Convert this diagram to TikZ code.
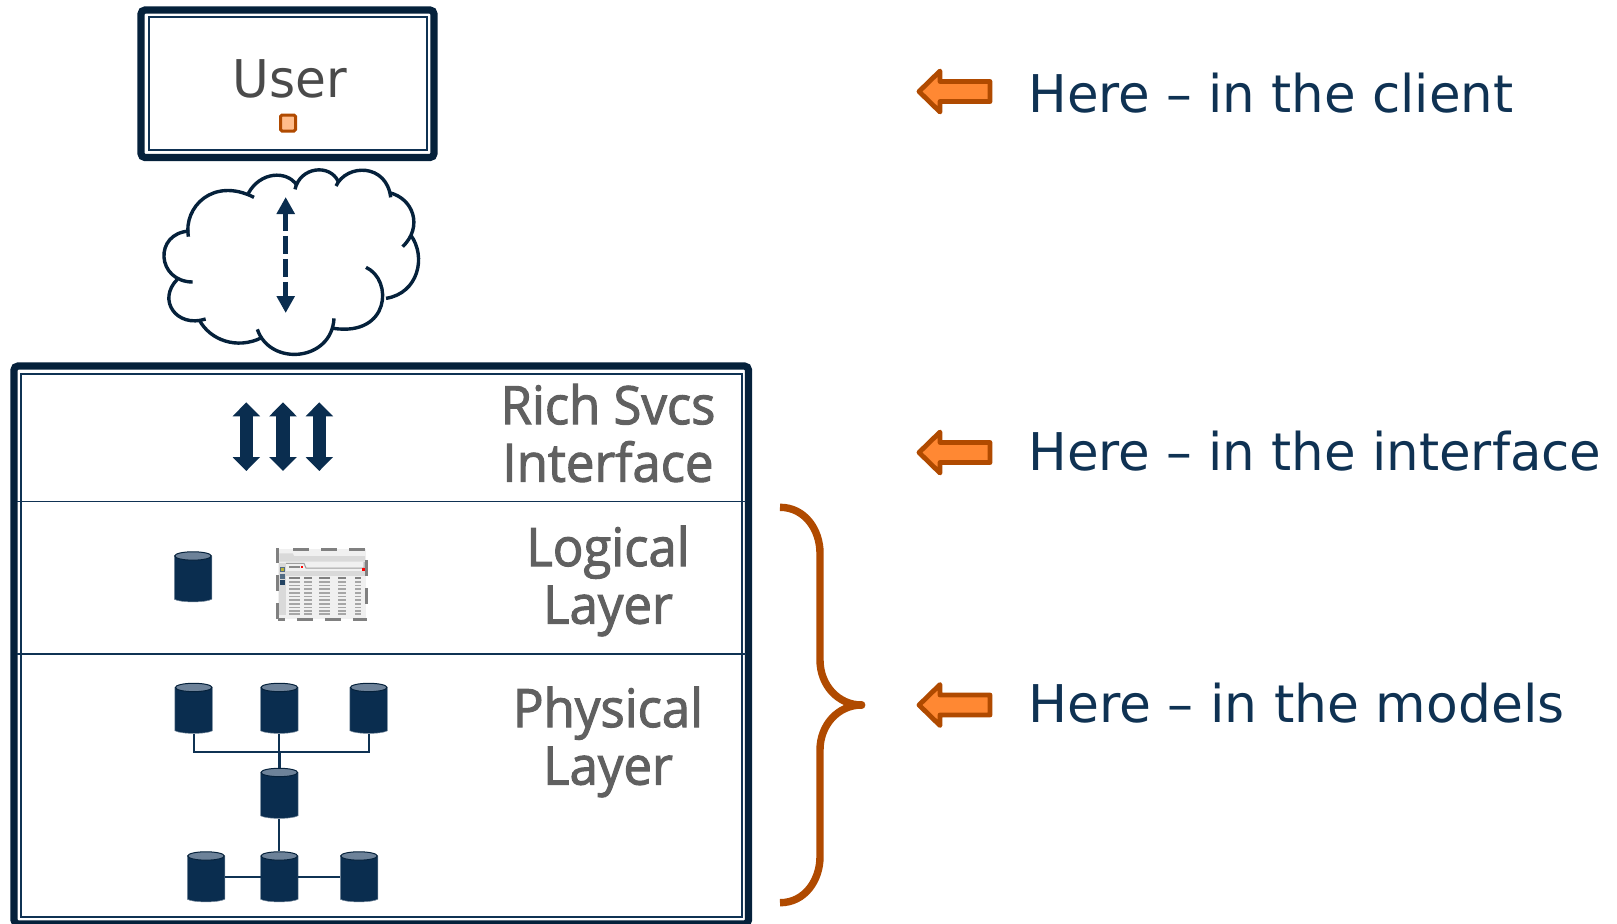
\documentclass[tikz,border=0pt]{standalone}
\usepackage{fontspec}
\setmainfont{DejaVu Sans}
\newfontfamily\layfont[FakeBold=2,FakeStretch=0.96]{Open Sans}
\newfontfamily\herefont[FakeStretch=0.988]{DejaVu Sans}
\newfontfamily\herefontb[FakeStretch=0.998]{DejaVu Sans}
\usetikzlibrary{calc,arrows.meta}
\definecolor{navy}{HTML}{05213B}
\definecolor{navyfill}{HTML}{0A2D4F}
\definecolor{cyltop}{HTML}{6D8299}
\definecolor{rust}{HTML}{B04A00}
\definecolor{orangef}{HTML}{FF8833}
\definecolor{peach}{HTML}{FFBC8A}
\definecolor{usergray}{HTML}{4A4A4A}
\definecolor{laygray}{HTML}{606060}
\definecolor{heretext}{HTML}{0F3253}
\tikzset{
  outerbox/.style={draw=navy,line width=3.6pt,rounded corners=2pt,fill=none,inner sep=0pt},
  innerbox/.style={draw=heretext,line width=1pt},
  layerline/.style={draw=heretext,line width=0.8pt},
  dbcyl/.style={rectangle,minimum width=18.75pt,minimum height=25.75pt,inner sep=0pt,outer sep=0pt},
  cylbody/.style={fill=navyfill,draw=navyfill!55,line width=0.25pt},
  cylend/.style={fill=cyltop,draw=navy,line width=0.5pt},
  conn/.style={draw=heretext,line width=1pt},
  cloudline/.style={draw=navy,line width=1.7pt,line cap=butt},
  fatarrow/.style={navyfill,line width=6.65pt,{Triangle[length=7pt,width=13.35pt]}-{Triangle[length=7pt,width=13.35pt]}},
  dasharrow/.style={navyfill,line width=2.7pt,dash pattern=on 9pt off 2.5pt,{Triangle[length=8.5pt,width=8.7pt]}-{Triangle[length=8.5pt,width=8.7pt]}},
  herearrow/.style={draw=rust,fill=orangef,line width=2.4pt,line join=round},
  heretxt/.style={anchor=base west,text=heretext,font=\fontsize{26}{30}\selectfont\herefont,inner sep=0pt},
  laytxt/.style={align=center,text=laygray,font=\fontsize{26.5}{28.75}\selectfont\layfont,inner sep=0pt},
}
% cylinder: a named node plus its drawn body
\newcommand\dbnode[3]{%
  \node[dbcyl] (#1) at (#2,#3) {};
  \filldraw[cylbody] ($(#1.north west)+(0,5)$) -- ($(#1.south west)+(0,-3.5)$)
     .. controls ($(#1.south west)+(6,0)$) and ($(#1.south east)+(-6,0)$) .. ($(#1.south east)+(0,-3.5)$)
     -- ($(#1.north east)+(0,5)$) -- cycle;
  \filldraw[cylend] ($(#1.north)+(0,4.7)$) ellipse (18.3 and 4.2);
}
\begin{document}
\begin{tikzpicture}[x=0.5pt,y=-0.5pt]
\useasboundingbox (0,0) rectangle (1617,923);
% user box
\node[outerbox,minimum width=146.5pt,minimum height=73.75pt] (userbox) at (287.5,83.75) {};
\draw[innerbox] (148.5,17) rectangle (427,150);
\node[text=usergray,font=\fontsize{26}{30}\selectfont,anchor=base,inner sep=0pt] (usertxt) at (290,97) {\addfontfeatures{FakeStretch=0.965}User};
\node[draw=rust,fill=peach,line width=1.5pt,rounded corners=0.8pt,minimum width=7.5pt,minimum height=8pt,inner sep=0pt] (usersq) at (288,123) {};
% cloud (zoom coordinates)
\begin{scope}[shift={(120,0)},x=0.16667pt,y=-0.16667pt]
\draw[cloudline] (205,710) .. controls (190,620) and (280,530) .. (402,592);
\draw[cloudline] (385,580) .. controls (420,515) and (500,510) .. (530,555);
\draw[cloudline] (525,568) .. controls (540,500) and (630,490) .. (655,545);
\draw[cloudline] (648,558) .. controls (680,490) and (800,490) .. (812,592);
\draw[cloudline] (808,578) .. controls (880,595) and (910,680) .. (848,740);
\draw[cloudline] (872,705) .. controls (920,770) and (895,880) .. (798,895);
\draw[cloudline] (738,802) .. controls (820,840) and (810,1010) .. (640,985);
\draw[cloudline] (642,955) .. controls (635,1085) and (450,1100) .. (412,988);
\draw[cloudline] (425,1013) .. controls (350,1050) and (270,1020) .. (238,960);
\draw[cloudline] (257,957) .. controls (170,985) and (110,900) .. (172,838);
\draw[cloudline] (218,846) .. controls (110,845) and (100,700) .. (208,693);
\end{scope}
\coordinate (datop) at (285.7,197);
\coordinate (dabot) at (285.7,313);
\draw[dasharrow] (datop) -- (dabot);
% service box
\node[outerbox,minimum width=367.25pt,minimum height=279pt] (svcbox) at (381.25,645) {};
\draw[innerbox] (21,374) rectangle (742,917);
\coordinate (l1a) at (17,501.5); \coordinate (l1b) at (746,501.5);
\coordinate (l2a) at (17,654); \coordinate (l2b) at (746,654);
\draw[layerline] (l1a) -- (l1b);
\draw[layerline] (l2a) -- (l2b);
% fat arrows
\foreach \n/\x in {a/246.3,b/283,c/319.3}{
  \coordinate (ft\n) at (\x,402.3); \coordinate (fb\n) at (\x,471);
  \draw[fatarrow] (ft\n) -- (fb\n);
}
% layer labels
\node[laytxt] (rich) at (608,433) {Rich Svcs\\Interface};
\node[laytxt] (logical) at (608,581) {Logical\\Layer};
\node[laytxt] (physical) at (608,742) {Physical\\Layer};
% logical layer db
\dbnode{ldb}{193}{577}
% server icon (zoom coordinates)
\begin{scope}[shift={(150,520)},x=0.16667pt,y=-0.16667pt]
\fill[black!6] (385,88) rectangle (648,298);
\fill[black!15] (388,100) -- (428,100) -- (432,108) -- (645,108) -- (645,125) -- (388,125) -- cycle;
\fill[black!15] (388,128) rectangle (408,285);
\fill[black!15] (408,152) rectangle (645,168);
\draw[black!38,line width=0.5pt] (408,130) -- (462,130) -- (468,144) -- (642,144) -- (642,126);
\fill[black!46] (417,138) rectangle (450,144);
\foreach \x/\w in {428/48,512/48,596/48}{\fill[black!50] (\x,83) rectangle ++(\w,11);}
\foreach \x/\w in {385/20,440/48,525/48,610/42}{\fill[black!50] (\x,293) rectangle ++(\w,10);}
\foreach \y/\h in {85/43,165/48,250/47}{\fill[black!50] (379,\y) rectangle ++(9,\h);}
\foreach \y/\h in {120/48,205/47}{\fill[black!50] (645,\y) rectangle ++(9,\h);}
\fill[navyfill!70] (390,140) rectangle (406,156);
\fill[yellow!70!black] (394,144) rectangle (402,152);
\fill[navyfill!70] (390,162) rectangle (406,177);
\fill[navyfill!90] (390,180) rectangle (406,196);
\fill[red] (453,138) rectangle (459,144);
\fill[red] (636,144) rectangle (646,153);
\foreach \x/\w in {417/34,463/23,507/34,564/23,615/18}{
  \fill[black!50] (\x,171) rectangle ++(\w,6);
  \foreach \y in {183,194,205,216,227,238,249,260,271,279}{
    \fill[black!35] (\x,\y) rectangle ++(\w,5);
  }
}
\end{scope}
% physical layer
\coordinate (bus) at (279.3,751.7);
\dbnode{p1}{193.7}{708.5}
\dbnode{p2}{279.3}{708.5}
\dbnode{p3}{368.7}{708.5}
\dbnode{m}{279.3}{793.5}
\dbnode{b1}{206}{877}
\dbnode{b2}{279.3}{877}
\dbnode{b3}{359}{877}
\draw[conn] (p1.south) |- (bus) -| (p3.south);
\draw[conn] (p2.south) -- (bus);
\draw[conn,line width=1.4pt] (bus) -- (m.north);
\draw[conn] (m.south) -- (b2.north);
\draw[conn] (b1.east) -- (b2.west);
\draw[conn] (b2.east) -- (b3.west);
% brace
\draw[rust,line width=3.7pt,line cap=butt] (780,507.3) .. controls (805,507.3) and (820,530) .. (820,553)
  -- (820,660) .. controls (820,685) and (838,705) .. (861.7,705);
\draw[rust,line width=3.7pt,line cap=round] (861.7,705) -- (861,705);
\draw[rust,line width=3.7pt,line cap=butt] (861.7,705) .. controls (838,705) and (820,725) .. (820,750)
  -- (820,856.7) .. controls (820,880) and (805,902.7) .. (780,902.7);
% here arrows
\foreach \y in {91.5,452.5,705}{
  \draw[herearrow] (919,\y) -- ++(21,-20.5) -- ++(0,10.5) -- ++(50,0) -- ++(0,20) -- ++(-50,0) -- ++(0,10.5) -- cycle;
}
\node[heretxt] (h1) at (1028,112) {Here – in the client};
\node[heretxt] (h2) at (1028,470) {Here – in the interface};
\node[heretxt] (h3) at (1028,722) {\herefontb Here – in the models};
\end{tikzpicture}
\end{document}
